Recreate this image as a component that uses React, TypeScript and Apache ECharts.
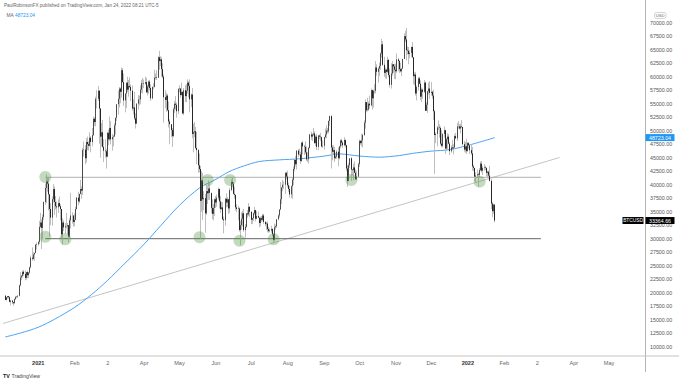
import React, { useEffect, useRef } from "react";
import * as echarts from "echarts";

// ---------- data (prices in thousands of USD) ----------
const candleStart = "2020-12-04";
const firstOpen = 19.45;
const closes = [
  // Dec 2020 (from 4th)
  18.65, 19.15, 19.36, 19.17, 18.32, 18.55, 18.25, 18.04, 18.8, 19.17, 19.27, 19.43, 21.35, 22.8, 23.13, 23.87, 23.48, 22.74, 23.82, 23.24, 23.73, 24.71, 26.49, 26.28, 27.08, 27.36, 28.87, 28.98,
  // Jan 2021
  29.4, 32.2, 33.0, 32.0, 34.0, 36.8, 39.4, 40.6, 40.2, 38.2, 35.5, 33.9, 37.3, 39.2, 36.8, 36.0, 35.8, 36.6, 36.0, 35.5, 30.8, 33.0, 32.1, 32.3, 32.3, 32.5, 30.4, 33.4, 34.3, 34.3, 33.1,
  // Feb
  33.5, 35.5, 37.6, 36.9, 38.3, 39.2, 38.9, 46.4, 46.5, 44.9, 47.9, 47.5, 47.2, 48.7, 47.9, 49.2, 52.2, 51.6, 55.9, 55.9, 57.4, 54.1, 48.9, 49.7, 47.0, 46.3, 46.2, 45.2,
  // Mar
  49.6, 48.4, 50.5, 48.4, 48.8, 48.9, 51.0, 52.4, 54.9, 55.9, 57.8, 57.2, 61.2, 59.0, 55.6, 56.9, 58.9, 57.6, 58.3, 58.1, 57.4, 54.1, 54.3, 52.3, 51.3, 55.0, 55.8, 55.8, 57.6, 58.8, 58.8,
  // Apr
  58.7, 59.0, 57.1, 58.2, 59.1, 57.9, 56.0, 58.1, 58.1, 59.8, 59.9, 59.8, 63.6, 62.9, 63.2, 61.4, 60.0, 56.2, 55.7, 56.5, 53.8, 51.7, 51.2, 50.1, 49.0, 54.0, 55.0, 54.8, 53.6, 57.7,
  // May
  57.8, 56.6, 57.2, 53.2, 57.5, 56.4, 57.4, 58.9, 58.3, 55.8, 56.7, 49.4, 49.7, 49.9, 46.8, 46.4, 43.6, 42.9, 37.0, 40.8, 37.3, 37.5, 34.7, 38.8, 38.4, 39.3, 38.5, 35.7, 34.6, 35.7, 37.3,
  // Jun
  36.7, 37.6, 39.2, 36.9, 35.5, 35.8, 33.6, 33.4, 37.4, 36.7, 37.3, 35.6, 39.0, 40.5, 40.2, 38.3, 38.1, 35.8, 35.5, 35.6, 31.6, 32.5, 33.7, 34.7, 31.6, 32.2, 34.7, 34.5, 35.9, 35.0,
  // Jul
  33.5, 33.8, 34.7, 35.3, 33.7, 34.2, 33.9, 32.9, 33.8, 33.5, 34.3, 33.1, 32.7, 32.8, 31.8, 31.4, 31.5, 31.8, 30.8, 29.8, 32.1, 32.3, 33.6, 34.3, 35.4, 37.3, 39.5, 40.0, 40.0, 42.2, 41.5,
  // Aug
  39.9, 39.2, 38.2, 39.7, 40.9, 42.9, 44.6, 43.8, 46.3, 45.6, 45.6, 44.4, 47.8, 47.1, 47.0, 46.0, 44.7, 44.7, 46.8, 49.3, 48.9, 49.3, 49.5, 47.7, 48.9, 47.0, 49.1, 48.9, 48.8, 47.1, 47.2,
  // Sep
  48.8, 49.3, 50.0, 49.9, 51.8, 52.7, 46.9, 46.1, 46.4, 44.9, 45.2, 46.1, 44.9, 47.1, 48.2, 47.8, 47.3, 48.3, 47.3, 43.0, 40.7, 43.6, 44.9, 42.8, 42.7, 43.2, 42.2, 41.0, 41.5, 43.8,
  // Oct
  48.1, 47.7, 48.2, 49.2, 51.5, 55.3, 53.8, 53.9, 55.0, 54.7, 57.5, 56.0, 57.4, 57.4, 61.7, 60.9, 61.5, 62.0, 64.3, 66.0, 62.2, 60.7, 61.3, 60.9, 63.1, 60.3, 58.5, 60.6, 62.3, 61.9, 61.3,
  // Nov
  61.0, 63.2, 62.9, 61.4, 61.0, 61.5, 63.3, 67.5, 66.9, 64.9, 64.8, 64.2, 64.4, 65.5, 63.6, 60.1, 60.4, 56.9, 58.1, 59.7, 58.7, 56.3, 57.6, 57.2, 58.9, 53.7, 54.8, 57.3, 57.8, 57.0,
  // Dec
  57.2, 56.5, 53.6, 49.2, 49.4, 50.6, 50.6, 50.5, 47.6, 47.2, 49.4, 50.1, 46.7, 48.4, 48.9, 47.6, 46.2, 46.9, 46.7, 46.9, 49.0, 48.6, 50.8, 50.8, 50.4, 50.8, 50.7, 47.5, 46.5, 47.1, 46.2,
  // Jan 2022
  47.7, 47.3, 46.4, 45.8, 43.4, 43.1, 41.5, 41.7, 41.9, 41.8, 42.7, 43.9, 42.6, 43.1, 43.2, 43.1, 42.2, 42.4, 41.7, 40.7, 36.5, 35.1, 36.3, 33.36466,
];
const highs = [
  19.5, 19.2, 19.4, 19.42, 19.3, 18.64, 18.56, 18.27, 18.95, 19.4, 19.35, 19.57, 21.5, 23.8, 23.3, 24.1, 24.2, 24.1, 23.85, 24.1, 23.8, 24.8, 26.9, 28.4, 27.5, 27.4, 28.99, 29.3,
  29.6, 33.3, 34.8, 33.6, 34.5, 36.9, 40.2, 41.9, 41.4, 41.3, 38.3, 36.6, 37.8, 40.1, 39.7, 37.9, 36.9, 37.3, 37.8, 36.4, 35.5, 33.8, 33.4, 32.9, 34.8, 32.9, 32.5, 33.8, 38.5, 34.9, 34.3,
  34.7, 35.9, 37.7, 38.7, 38.3, 40.9, 39.7, 46.8, 48.0, 47.3, 48.6, 48.9, 48.0, 49.7, 49.0, 50.5, 52.6, 52.5, 56.3, 57.5, 58.3, 57.5, 54.2, 51.4, 52.0, 48.4, 48.4, 46.6,
  49.8, 50.2, 52.6, 51.8, 49.4, 49.2, 51.4, 52.4, 54.9, 57.4, 58.1, 58.0, 61.7, 61.6, 60.6, 56.9, 58.9, 60.0, 59.4, 59.9, 58.6, 58.4, 55.8, 57.2, 53.2, 55.1, 56.6, 56.5, 58.4, 59.4, 59.8,
  59.5, 60.0, 59.8, 58.5, 59.3, 59.4, 58.6, 58.2, 58.8, 61.3, 60.6, 61.2, 63.8, 64.8, 63.8, 63.6, 62.5, 60.4, 57.5, 57.0, 56.8, 55.4, 52.1, 51.2, 50.5, 54.3, 55.5, 56.4, 55.2, 57.9,
  58.4, 57.9, 58.9, 57.2, 57.9, 58.4, 58.6, 59.5, 59.2, 59.5, 56.9, 57.9, 51.3, 51.6, 50.7, 49.8, 46.6, 45.8, 43.5, 42.5, 42.2, 38.8, 38.3, 39.9, 39.8, 40.8, 40.4, 38.2, 37.3, 36.4, 37.5,
  37.9, 38.2, 39.5, 39.3, 37.9, 36.8, 36.8, 34.1, 37.5, 38.4, 37.7, 37.4, 39.4, 41.0, 41.3, 40.5, 39.6, 38.2, 36.4, 36.1, 35.8, 33.3, 34.9, 35.2, 35.5, 32.7, 34.7, 35.3, 36.6, 36.0,
  35.0, 33.9, 34.9, 35.9, 35.3, 35.1, 35.0, 33.9, 34.1, 34.2, 34.6, 34.6, 33.3, 33.1, 33.2, 32.2, 31.9, 32.4, 31.9, 31.0, 32.8, 32.6, 33.6, 34.5, 35.4, 40.5, 39.5, 40.9, 40.6, 42.3, 42.4,
  42.6, 40.4, 39.8, 39.9, 41.4, 43.4, 44.7, 45.3, 46.4, 46.6, 46.7, 46.1, 47.8, 48.1, 47.4, 48.0, 47.1, 46.0, 47.0, 49.4, 49.8, 49.5, 50.5, 49.9, 49.2, 49.4, 49.2, 49.3, 49.6, 48.9, 48.2,
  48.9, 50.4, 51.0, 50.5, 51.9, 52.8, 52.9, 47.3, 47.3, 47.0, 45.9, 46.4, 46.9, 47.2, 48.4, 48.5, 48.1, 48.8, 48.3, 47.4, 43.6, 44.0, 44.9, 45.1, 42.9, 43.9, 44.3, 42.8, 42.6, 44.1,
  48.4, 48.3, 49.4, 49.5, 51.9, 55.8, 55.3, 56.1, 55.4, 56.5, 57.8, 57.6, 57.6, 58.6, 62.9, 62.3, 61.7, 62.6, 64.5, 67.0, 66.6, 63.7, 61.7, 61.5, 63.7, 63.3, 61.5, 62.5, 62.9, 62.3, 62.4,
  62.4, 64.3, 63.5, 63.1, 62.6, 61.6, 63.3, 68.0, 68.5, 69.0, 65.6, 65.5, 64.9, 65.6, 66.4, 63.6, 60.8, 60.9, 58.4, 59.9, 60.0, 59.3, 58.0, 57.8, 59.4, 59.1, 55.3, 57.4, 58.9, 59.2,
  59.0, 57.4, 57.6, 53.9, 49.7, 50.9, 51.9, 51.2, 50.8, 50.1, 49.5, 50.8, 50.2, 48.7, 49.5, 49.4, 47.9, 47.3, 48.3, 47.5, 49.3, 49.6, 51.4, 51.8, 51.2, 51.3, 52.0, 50.7, 48.1, 47.9, 48.5,
  47.9, 47.9, 47.5, 47.5, 47.0, 43.7, 43.1, 42.3, 42.8, 42.2, 43.1, 44.3, 44.4, 43.4, 43.8, 43.5, 43.2, 42.6, 42.6, 43.5, 41.1, 36.8, 36.5, 36.4,
];
const lows = [
  18.6, 18.55, 18.9, 18.9, 18.2, 17.65, 17.9, 17.57, 18.0, 18.7, 19.0, 19.05, 19.3, 21.2, 22.3, 22.8, 23.1, 22.3, 22.4, 22.7, 22.7, 23.5, 24.5, 25.9, 26.1, 25.9, 27.3, 28.0,
  28.7, 29.0, 32.0, 28.1, 29.9, 33.5, 36.3, 36.6, 38.7, 35.2, 30.4, 32.5, 32.4, 36.7, 34.4, 35.4, 33.9, 34.8, 35.9, 33.4, 30.1, 28.9, 31.4, 30.9, 31.9, 30.8, 29.3, 30.0, 31.9, 32.8, 32.2,
  32.3, 33.4, 35.4, 36.2, 36.6, 38.2, 37.4, 38.1, 45.2, 43.8, 44.1, 46.4, 46.3, 47.1, 46.0, 47.1, 49.0, 50.9, 50.8, 54.1, 55.5, 47.6, 45.0, 47.1, 46.8, 44.2, 45.0, 43.0,
  45.1, 47.3, 48.1, 47.5, 46.3, 47.1, 48.9, 49.3, 51.8, 53.0, 54.3, 55.1, 56.1, 58.9, 54.6, 53.4, 54.2, 57.1, 56.3, 57.9, 55.5, 53.7, 53.0, 52.0, 50.4, 51.3, 53.9, 54.7, 54.9, 57.0, 56.9,
  57.9, 58.5, 57.0, 56.5, 56.8, 57.5, 55.5, 55.8, 57.7, 58.0, 59.5, 59.4, 59.8, 61.3, 62.0, 60.0, 59.7, 51.5, 54.2, 53.5, 53.6, 50.6, 47.5, 48.8, 47.0, 48.8, 53.3, 53.9, 52.4, 53.1,
  57.1, 56.1, 56.5, 53.1, 52.9, 55.3, 55.3, 56.9, 56.2, 53.4, 54.4, 48.6, 46.0, 48.8, 46.6, 43.8, 42.2, 42.3, 30.0, 35.0, 33.5, 35.3, 31.1, 34.4, 36.4, 37.2, 37.2, 34.7, 33.6, 33.4, 34.2,
  35.7, 35.9, 37.2, 35.6, 34.8, 35.3, 33.4, 31.0, 32.4, 35.8, 35.9, 34.6, 34.8, 38.8, 39.5, 38.2, 37.4, 35.2, 34.9, 33.4, 31.3, 28.8, 31.7, 32.3, 31.3, 30.2, 32.0, 33.9, 34.2, 34.0,
  32.7, 32.7, 33.3, 34.4, 33.2, 33.6, 33.8, 32.1, 32.3, 33.1, 33.3, 32.7, 32.3, 31.6, 31.2, 31.1, 31.2, 31.1, 30.4, 29.3, 29.5, 31.7, 32.0, 33.4, 33.9, 35.3, 36.4, 38.8, 39.2, 38.3, 41.0,
  39.5, 38.7, 37.6, 37.5, 37.4, 39.9, 42.5, 43.4, 42.8, 45.1, 45.4, 43.8, 44.2, 45.6, 45.5, 45.7, 44.4, 44.2, 43.9, 46.7, 48.3, 48.1, 49.0, 47.6, 47.2, 46.4, 46.4, 48.4, 48.1, 46.9, 46.8,
  46.5, 48.6, 48.6, 49.5, 49.5, 50.9, 43.0, 44.5, 45.6, 44.2, 44.8, 44.8, 43.4, 44.7, 46.7, 47.1, 46.8, 47.1, 46.9, 42.5, 39.6, 40.6, 43.1, 40.7, 41.7, 40.8, 42.1, 40.9, 40.8, 41.4,
  43.3, 47.4, 47.1, 46.9, 49.0, 50.4, 53.4, 53.6, 53.7, 54.1, 54.5, 53.9, 54.3, 56.9, 56.9, 60.2, 58.9, 60.1, 61.3, 63.5, 62.0, 60.0, 59.7, 59.6, 60.7, 59.9, 58.0, 57.8, 60.2, 60.7, 59.6,
  59.5, 60.7, 61.0, 60.7, 60.8, 60.1, 61.4, 63.3, 66.4, 63.0, 64.1, 62.3, 63.4, 63.6, 63.4, 58.6, 58.4, 56.5, 55.6, 57.4, 58.6, 55.7, 55.3, 55.9, 57.0, 53.6, 53.7, 53.3, 56.7, 55.9,
  56.5, 55.9, 52.0, 42.0, 47.7, 47.1, 50.1, 48.7, 47.3, 46.9, 46.9, 48.7, 45.7, 46.3, 46.5, 47.5, 45.5, 45.9, 46.4, 45.6, 46.6, 48.4, 48.1, 50.4, 50.2, 49.5, 50.5, 47.3, 46.1, 45.9, 45.7,
  46.2, 46.7, 45.7, 45.5, 42.6, 42.5, 40.7, 40.5, 41.2, 39.6, 41.3, 42.5, 42.3, 41.8, 42.6, 42.7, 41.5, 41.3, 41.2, 40.6, 35.5, 34.0, 34.6, 33.0,
];

// moving average
const maDates = [
  "2020-12-04", "2020-12-18", "2021-01-01", "2021-01-15", "2021-02-01", "2021-02-15", "2021-03-01", "2021-03-15",
  "2021-04-01", "2021-04-15", "2021-05-01", "2021-05-18", "2021-06-01", "2021-06-12", "2021-06-25", "2021-07-08",
  "2021-07-25", "2021-08-11", "2021-09-01", "2021-09-14", "2021-10-01", "2021-10-18", "2021-11-04", "2021-11-15",
  "2021-11-30", "2021-12-17", "2022-01-03", "2022-01-24",
];
const maValues = [
  11.8, 12.6, 13.6, 15.1, 17.3, 19.6, 22.3, 25.3,
  29.0, 32.4, 36.2, 39.4, 41.0, 42.4, 43.5, 44.3,
  44.6, 44.8, 45.3, 45.7, 45.3, 45.1, 45.4, 45.8,
  46.2, 46.5, 47.4, 48.72304,
];

// time axis
const axisStart = "2020-11-30";
const axisDays = 548;
const monthKeys = ["2021-01", "2021-02", "2021-03", "2021-04", "2021-05", "2021-06", "2021-07", "2021-08", "2021-09", "2021-10", "2021-11", "2021-12", "2022-01", "2022-02", "2022-03", "2022-04", "2022-05"];
const monthLabels = ["2021", "Feb", "2", "Apr", "May", "Jun", "Jul", "Aug", "Sep", "Oct", "Nov", "Dec", "2022", "Feb", "2", "Apr", "May"];

// annotations
const circleDates = ["2021-01-07", "2021-01-07", "2021-01-24", "2021-05-25", "2021-06-13", "2021-05-18", "2021-06-21", "2021-07-20", "2021-09-24", "2022-01-11"];
const circlePrices = [41430, 30370, 29890, 40870, 40870, 30260, 29630, 29890, 40870, 40560];
const trendDates = ["2020-12-02", "2022-03-20"];
const trendPrices = [14300, 45040];
const levelDates = ["2021-01-07", "2022-03-04"];
const resistancePrice = 41370;
const supportPrice = 30000;

const maLast = 48723.04;
const lastPrice = 33364.66;
const symbolName = "BTCUSD";
const headerText = "PaulRobinsonFX published on TradingView.com, Jan 24, 2022 08:21 UTC-5";

const FONT = "'Liberation Sans', Arial, sans-serif";

function keyOf(ms: number) {
  const d = new Date(ms);
  const m = String(d.getUTCMonth() + 1).padStart(2, "0");
  const dd = String(d.getUTCDate()).padStart(2, "0");
  return `${d.getUTCFullYear()}-${m}-${dd}`;
}

export default function App() {
  const ref = useRef<HTMLDivElement>(null);

  useEffect(() => {
    document.body.style.margin = "0";
    const el = ref.current!;
    const chart = echarts.init(el, null, { renderer: "svg" });

    const [sy, sm, sd] = axisStart.split("-").map(Number);
    const t0 = Date.UTC(sy, sm - 1, sd);
    const categories: string[] = [];
    const idxOf: Record<string, number> = {};
    for (let i = 0; i < axisDays; i++) {
      const k = keyOf(t0 + i * 86400000);
      categories.push(k);
      idxOf[k] = i;
    }
    const labelOf: Record<string, string> = {};
    monthKeys.forEach((k, i) => (labelOf[k] = monthLabels[i]));

    const s0 = idxOf[candleStart];
    const wickData = closes.map((c, i) => {
      const o = i === 0 ? firstOpen : closes[i - 1];
      return [s0 + i, o * 1000, c * 1000, lows[i] * 1000, highs[i] * 1000];
    });
    const bodyData = closes.map((c, i) => {
      const o = i === 0 ? firstOpen : closes[i - 1];
      return [s0 + i, o * 1000, c * 1000, Math.min(o, c) * 1000, Math.max(o, c) * 1000];
    });
    const xv = (d: string) => idxOf[d] + 0.5;

    const option: any = {
      animation: false,
      grid: { left: 0, right: 34, top: 9.2, bottom: 34.3 },
      xAxis: [
        {
          type: "category",
          data: categories,
          boundaryGap: true,
          axisLine: { show: false },
          axisTick: { show: false },
          splitLine: { show: false },
          axisLabel: {
            interval: (_i: number, v: string) => v.endsWith("-01") && labelOf[v.slice(0, 7)] !== undefined,
            formatter: (v: string) => {
              const lab = labelOf[v.slice(0, 7)] ?? "";
              return /^\d{4}$/.test(lab) ? `{y|${lab}}` : lab;
            },
            margin: 13,
            fontSize: 5.6,
            color: "#666",
            fontFamily: FONT,
            rich: { y: { fontSize: 5.6, fontWeight: "bold", color: "#333", fontFamily: FONT } },
          },
        },
        { type: "value", min: 0, max: axisDays, show: false },
      ],
      yAxis: {
        type: "value",
        position: "right",
        min: 10000,
        max: 72500,
        interval: 2500,
        axisLine: { show: false },
        axisTick: { show: false },
        splitLine: { show: false },
        axisLabel: {
          formatter: (v: number) => v.toFixed(2),
          showMaxLabel: false,
          fontSize: 5.3,
          color: "#555",
          margin: 5,
          fontFamily: FONT,
        },
      },
      series: [
        {
          type: "line",
          xAxisIndex: 1,
          data: [
            [xv(trendDates[0]), trendPrices[0]],
            [xv(trendDates[1]), trendPrices[1]],
          ],
          symbol: "none",
          lineStyle: { color: "#bdbdbd", width: 0.9 },
          silent: true,
          z: 1,
        },
        {
          type: "line",
          xAxisIndex: 1,
          data: [
            [xv(levelDates[0]), resistancePrice],
            [xv(levelDates[1]), resistancePrice],
          ],
          symbol: "none",
          lineStyle: { color: "#a8a8a8", width: 0.9 },
          silent: true,
          z: 1,
        },
        {
          type: "line",
          xAxisIndex: 1,
          data: [
            [xv(levelDates[0]), supportPrice],
            [xv(levelDates[1]), supportPrice],
          ],
          symbol: "none",
          lineStyle: { color: "#666", width: 1 },
          silent: true,
          z: 1,
        },
        {
          type: "line",
          xAxisIndex: 1,
          data: maDates.map((d, i) => [xv(d), maValues[i] * 1000]),
          symbol: "none",
          smooth: 0.3,
          lineStyle: { color: "#4aa3f0", width: 1 },
          silent: true,
          z: 2,
        },
        {
          type: "candlestick",
          data: wickData,
          encode: { x: 0, y: [1, 2, 3, 4] },
          barWidth: 1,
          itemStyle: {
            color: "rgba(0,0,0,0)",
            color0: "rgba(0,0,0,0)",
            borderColor: "#b8b8b8",
            borderColor0: "#b8b8b8",
            borderWidth: 0.9,
          },
          silent: true,
          z: 3,
        },
        {
          type: "candlestick",
          data: bodyData,
          encode: { x: 0, y: [1, 2, 3, 4] },
          barWidth: 1,
          itemStyle: {
            color: "#2e2e2e",
            color0: "#000",
            borderColor: "#2e2e2e",
            borderColor0: "#000",
            borderWidth: 0.8,
          },
          silent: true,
          z: 4,
        },
        {
          type: "scatter",
          xAxisIndex: 1,
          data: circleDates.map((d, i) => [xv(d), circlePrices[i]]),
          symbol: "circle",
          symbolSize: 12,
          itemStyle: { color: "rgba(80,145,65,0.42)" },
          silent: true,
          z: 5,
        },
      ],
    };
    chart.setOption(option);

    const yMa = chart.convertToPixel({ yAxisIndex: 0 }, maLast) as number;
    const yLast = chart.convertToPixel({ yAxisIndex: 0 }, lastPrice) as number;

    const txt = (x: number, y: number, text: string, fill: string, fontSize: number, align = "left", weight = "normal") => ({
      type: "text",
      x,
      y,
      z: 100,
      silent: true,
      style: { text, fill, fontSize, fontFamily: FONT, align, verticalAlign: "middle", fontWeight: weight },
    });

    chart.setOption({
      graphic: {
        elements: [
          { type: "line", silent: true, z: 50, shape: { x1: 645.5, y1: 0, x2: 645.5, y2: 372 }, style: { stroke: "#b5b5b5", lineWidth: 1 } },
          { type: "line", silent: true, z: 50, shape: { x1: 0, y1: 356, x2: 679, y2: 356 }, style: { stroke: "#c4c4c4", lineWidth: 1 } },
          txt(4, 5, headerText, "#666", 4.6),
          txt(6.5, 15, "MA", "#666", 4.8),
          txt(15, 15, maLast.toFixed(2), "#2196f3", 4.8),
          { type: "rect", z: 100, silent: true, shape: { x: 654.5, y: 12.5, width: 11.5, height: 6, r: 2 }, style: { fill: "#fff", stroke: "#bbb", lineWidth: 0.6 } },
          txt(660.2, 15.6, "USD", "#666", 4.2, "center"),
          { type: "rect", z: 100, silent: true, shape: { x: 645.5, y: yMa - 3.5, width: 29, height: 7 }, style: { fill: "#2196f3" } },
          txt(660, yMa + 0.2, maLast.toFixed(2), "#fff", 5.3, "center"),
          { type: "rect", z: 100, silent: true, shape: { x: 622.5, y: yLast - 3.5, width: 21, height: 7 }, style: { fill: "#000" } },
          txt(633, yLast + 0.2, symbolName, "#fff", 4.8, "center"),
          { type: "rect", z: 100, silent: true, shape: { x: 645.5, y: yLast - 3.5, width: 29, height: 7 }, style: { fill: "#000" } },
          txt(660, yLast + 0.2, lastPrice.toFixed(2), "#fff", 5.3, "center"),
          txt(3, 376, "TV", "#222", 5.4, "left", "bold"),
          txt(11.5, 376, "TradingView", "#444", 5.2),
        ],
      },
    });

    return () => chart.dispose();
  }, []);

  return <div ref={ref} style={{ position: "absolute", left: 0, top: 0, width: 679, height: 381 }} />;
}
